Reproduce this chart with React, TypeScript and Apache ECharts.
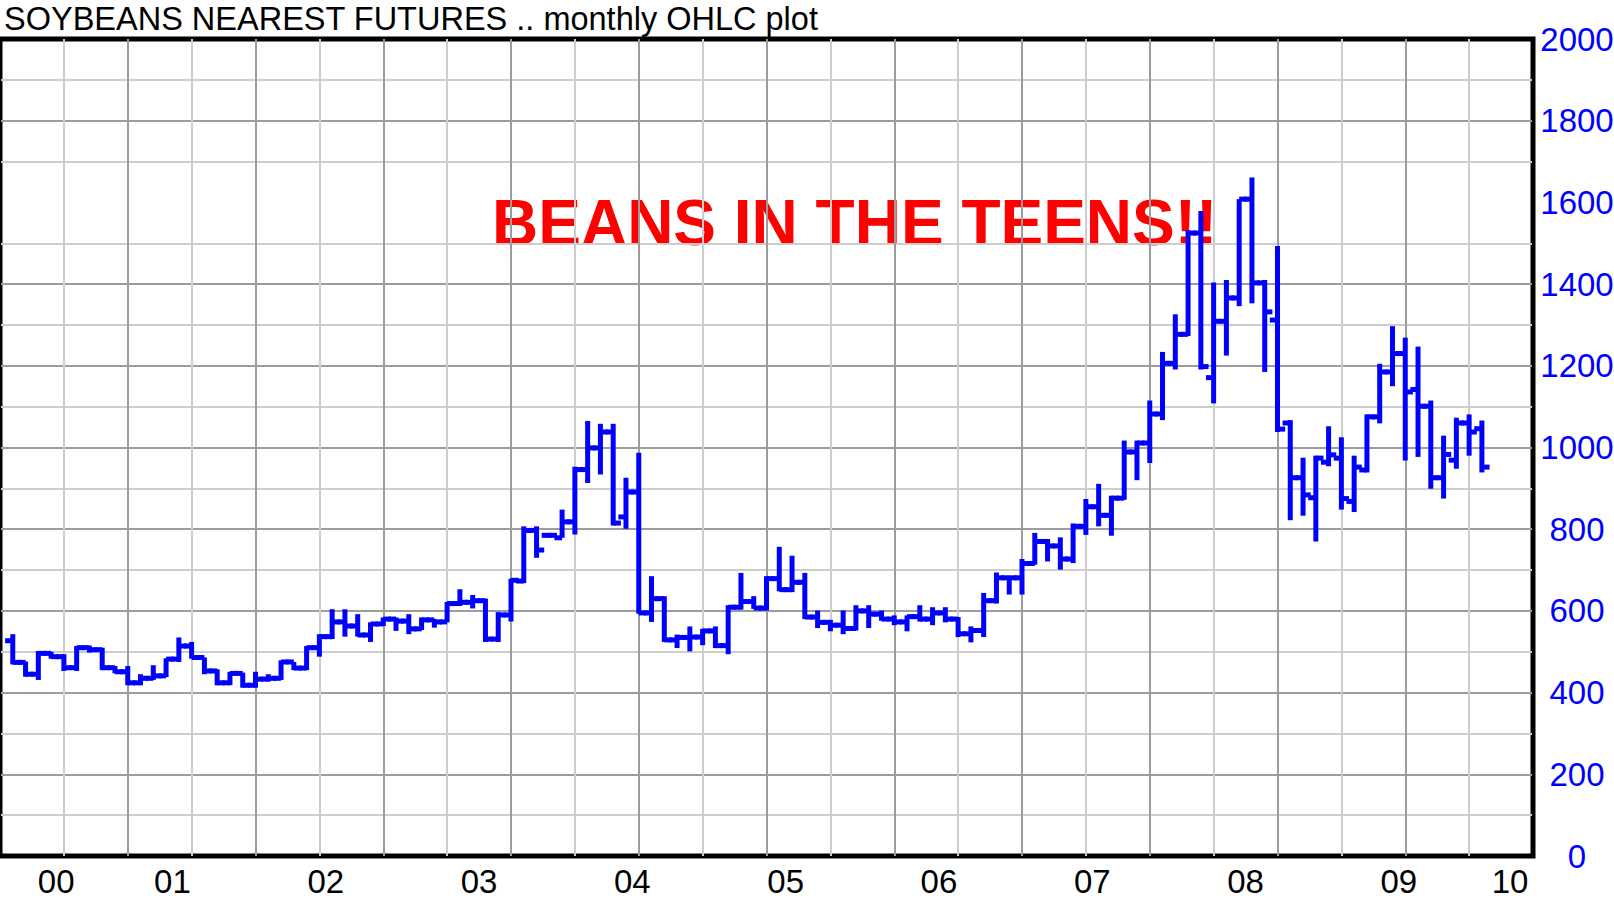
import React, { useEffect, useRef } from "react";
import * as echarts from "echarts";

// ---- data (monthly OHLC, nearest soybean futures, cents/bu), first bar = June 2000 ----
const firstBar = { year: 2000, month: 6 };
const axisStart = { year: 2000, month: 5 }; // left edge of the plot
const axisMonths = 120;

const opens = [
  527, 474, 445, 496, 488, 461, 510, 505, 461, 451,
  424, 435, 441, 482, 514, 486, 453, 424, 447, 418,
  433, 435, 475, 460, 510, 537, 573, 563, 541, 568,
  580, 575, 556, 578, 573, 618, 621, 625, 531, 590,
  673, 797, 785, 779, 818, 946, 999, 1038, 830, 891,
  595, 630, 529, 535, 536, 551, 515, 609, 623, 607,
  679, 652, 670, 585, 572, 565, 557, 600, 592, 580,
  573, 586, 580, 595, 580, 544, 552, 625, 681, 681,
  716, 770, 759, 727, 807, 855, 834, 876, 989, 1011,
  1082, 1206, 1277, 1525, 1171, 1309, 1366, 1608, 1403, 1312,
  1060, 926, 877, 964, 974, 868, 945, 1075, 1185, 1230,
  1142, 1101, 926, 969, 1060, 1046,
];
const highs = [
  543, 476, 502, 500, 494, 514, 515, 510, 465, 465,
  445, 467, 484, 535, 524, 486, 457, 451, 449, 451,
  445, 479, 475, 514, 543, 604, 604, 592, 572, 584,
  584, 592, 584, 580, 622, 653, 639, 630, 597, 679,
  807, 807, 791, 848, 953, 1065, 1058, 1058, 926, 987,
  685, 636, 542, 562, 556, 562, 614, 693, 636, 685,
  757, 735, 693, 601, 578, 601, 614, 614, 601, 589,
  589, 614, 609, 609, 585, 562, 644, 694, 686, 727,
  791, 776, 780, 814, 874, 911, 882, 1017, 1017, 1115,
  1234, 1326, 1532, 1579, 1404, 1410, 1608, 1661, 1410, 1493,
  1067, 975, 980, 1052, 1025, 980, 1081, 1205, 1297, 1269,
  1247, 1115, 1029, 1073, 1081, 1066,
];
const lows = [
  469, 439, 431, 483, 453, 453, 498, 455, 447, 418,
  418, 431, 438, 475, 483, 445, 418, 418, 412, 412,
  427, 431, 455, 455, 488, 531, 537, 537, 524, 563,
  551, 543, 553, 559, 572, 612, 606, 524, 524, 574,
  668, 730, 779, 779, 787, 913, 934, 809, 801, 593,
  573, 524, 509, 501, 516, 509, 494, 603, 605, 601,
  648, 646, 580, 558, 550, 543, 552, 558, 576, 565,
  550, 574, 565, 572, 536, 523, 536, 618, 640, 640,
  713, 721, 701, 717, 786, 807, 784, 872, 920, 962,
  1067, 1191, 1273, 1191, 1108, 1225, 1346, 1353, 1185, 1038,
  822, 833, 770, 954, 848, 842, 939, 1059, 1150, 968,
  977, 899, 875, 948, 980, 939,
];
const closes = [
  474, 445, 496, 488, 461, 510, 505, 461, 451, 424,
  435, 441, 482, 514, 486, 453, 424, 447, 418, 433,
  435, 475, 460, 510, 537, 573, 563, 541, 568, 580,
  575, 556, 578, 573, 618, 621, 625, 531, 590, 675,
  797, 749, 785, 818, 946, 999, 1038, 815, 891, 595,
  630, 529, 535, 536, 551, 515, 609, 623, 607, 679,
  652, 670, 585, 572, 565, 557, 600, 592, 580, 573,
  586, 580, 595, 580, 544, 552, 625, 681, 681, 716,
  770, 759, 727, 807, 855, 834, 876, 989, 1011, 1082,
  1206, 1277, 1525, 1198, 1309, 1366, 1608, 1403, 1332, 1045,
  926, 884, 974, 982, 875, 952, 1075, 1185, 1230, 1136,
  1101, 926, 983, 1060, 1038, 952,
];

const yearLabels = ["00", "01", "02", "03", "04", "05", "06", "07", "08", "09", "10"];
const firstYear = 2000;
const priceTicks = [0, 200, 400, 600, 800, 1000, 1200, 1400, 1600, 1800, 2000];
const priceMax = 2000;
const priceStep = 100;
const hiddenGridValue = 1600;

const TITLE = "SOYBEANS NEAREST FUTURES .. monthly OHLC plot";
const NOTE = "BEANS IN THE TEENS!!";

const DARK = "#9c9c9c";
const LIGHT = "#cdcdcd";
const BLUE = "#0000ff";

function monthOffset(y: number, m: number) {
  return (y - axisStart.year) * 12 + (m - axisStart.month);
}

export default function App() {
  const ref = useRef<HTMLDivElement>(null);

  useEffect(() => {
    document.body.style.margin = "0";
    const el = ref.current!;
    const chart = echarts.init(el, undefined, { renderer: "svg" });

    const start = monthOffset(firstBar.year, firstBar.month);
    const bars = opens.map((o, k) => [start + k, o, highs[k], lows[k], closes[k]]);

    // label positions: middle of each year, kept inside the plot
    const labelPos = yearLabels.map((_, k) => {
      const mid = monthOffset(firstYear + k, 7) - 0.5;
      return Math.min(Math.max(mid, 4.4), 118.2);
    });

    const yCount = priceMax / priceStep + 1;
    const yColors = Array.from({ length: yCount }, (_, k) => {
      if (k === 0 || k === yCount - 1) return "#000";
      if (k * priceStep === hiddenGridValue) return "rgba(0,0,0,0)";
      return k % 2 === 0 ? DARK : LIGHT;
    });
    const xCount = axisMonths / 5 + 1;
    const xColors = Array.from({ length: xCount }, (_, k) => {
      if (k === 0 || k === xCount - 1) return "#000";
      return k % 2 === 0 ? DARK : LIGHT;
    });

    chart.setOption({
      animation: false,
      backgroundColor: "#fff",
      grid: {
        left: 0,
        width: 1533,
        top: 39,
        height: 817,
        show: true,
        borderColor: "#000",
        borderWidth: 5,
        backgroundColor: "#fff",
        containLabel: false,
        outerBoundsMode: "none",
      },
      xAxis: {
        type: "value",
        min: 0,
        max: axisMonths,
        interval: 5,
        axisLine: { show: false },
        axisTick: { show: false },
        splitLine: { show: true, lineStyle: { color: xColors, width: 2 } },
        axisLabel: {
          customValues: labelPos,
          formatter: (v: number) => {
            let best = 0;
            labelPos.forEach((p, k) => {
              if (Math.abs(p - v) < Math.abs(labelPos[best] - v)) best = k;
            });
            return yearLabels[best];
          },
          color: "#000",
          fontSize: 33,
          lineHeight: 26,
          fontFamily: "Liberation Sans",
          margin: 12.5,
        },
      },
      yAxis: {
        type: "value",
        position: "right",
        min: 0,
        max: priceMax,
        interval: priceStep,
        axisLine: { show: false },
        axisTick: { show: false },
        splitLine: { show: true, lineStyle: { color: yColors, width: 2 } },
        axisLabel: {
          customValues: priceTicks,
          formatter: (v: number) => String(v),
          color: BLUE,
          fontSize: 33,
          lineHeight: 30,
          fontFamily: "Liberation Sans",
          align: "center",
          margin: 44,
        },
      },
      graphic: [
        {
          type: "text",
          left: 4,
          top: 2,
          style: {
            text: TITLE,
            font: '32.5px "Liberation Sans"',
            lineHeight: 30,
            fill: "#000",
          },
        },
        {
          type: "text",
          x: 492,
          y: 223,
          style: {
            text: NOTE,
            font: 'bold 64px "Liberation Sans"',
            fill: "#ff0000",
            textVerticalAlign: "middle",
          },
        },
      ],
      series: [
        {
          type: "custom",
          data: bars,
          encode: { x: 0, y: [1, 2, 3, 4] },
          clip: true,
          z: 5,
          renderItem: (params: any, api: any) => {
            const x = api.value(0);
            const o = api.coord([x, api.value(1)]);
            const h = api.coord([x, api.value(2)]);
            const l = api.coord([x, api.value(3)]);
            const c = api.coord([x, api.value(4)]);
            const w = api.size([1, 0])[0] * 0.6;
            const style = { stroke: BLUE, lineWidth: 5, fill: "none" };
            return {
              type: "group",
              children: [
                { type: "line", shape: { x1: h[0], y1: h[1], x2: l[0], y2: l[1] }, style },
                { type: "line", shape: { x1: o[0] - w, y1: o[1], x2: o[0], y2: o[1] }, style },
                { type: "line", shape: { x1: c[0], y1: c[1], x2: c[0] + w, y2: c[1] }, style },
              ],
            };
          },
        },
      ],
    });

    return () => chart.dispose();
  }, []);

  return <div ref={ref} style={{ width: 1614, height: 901 }} />;
}
